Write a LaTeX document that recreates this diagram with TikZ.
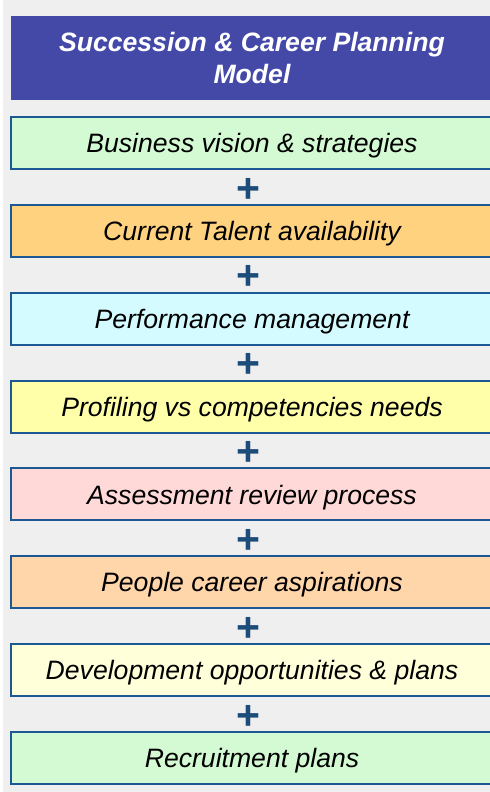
\documentclass[tikz,border=0pt]{standalone}
\usepackage{fontspec}
\setmainfont{Liberation Sans}
\usepackage{tikz}
\usetikzlibrary{positioning}
\definecolor{pagegray}{RGB}{239,239,239}
\definecolor{titleblue}{RGB}{68,73,168}
\definecolor{edgeblue}{RGB}{28,88,145}
\definecolor{plusblue}{RGB}{28,76,122}
\definecolor{fillgreen}{RGB}{212,250,212}
\definecolor{fillorange}{RGB}{255,210,128}
\definecolor{fillcyan}{RGB}{212,251,255}
\definecolor{fillyellow}{RGB}{255,255,170}
\definecolor{fillpink}{RGB}{255,216,216}
\definecolor{fillpeach}{RGB}{255,213,170}
\definecolor{fillcream}{RGB}{255,255,218}
\tikzset{
  title/.style={fill=titleblue,text=white,outer sep=0pt,inner sep=0pt,
    minimum width=241pt,minimum height=42pt,align=center,
    font=\fontsize{13.3}{16.5}\selectfont\bfseries\itshape},
  stepbox/.style={draw=edgeblue,line width=1pt,outer sep=0pt,inner sep=0pt,
    minimum width=241pt,minimum height=26pt,text depth=0pt,
    font=\fontsize{13.3}{16}\selectfont\itshape},
  plus/.style={text=plusblue,inner sep=0pt,outer sep=0pt,
    font=\fontsize{20.5}{20}\selectfont\bfseries}
}

\begin{document}
\begin{tikzpicture}[node distance=17.93pt]
    \useasboundingbox[fill=pagegray] (0,0) rectangle (245pt,-396pt);
    \fill[white] (0,0) rectangle (1.5pt,-396pt);
    \node[title,anchor=north west] (head) at (5.5pt,-8pt) {Succession \& Career Planning\\Model};
    \node[stepbox,fill=fillgreen,below=8.5pt of head.south west,anchor=north west] (vision) {Business vision \& strategies};
    \node[stepbox,fill=fillorange,below=of vision] (talent) {Current Talent availability};
    \node[stepbox,fill=fillcyan,below=of talent] (perf) {Performance management};
    \node[stepbox,fill=fillyellow,below=of perf] (profile) {Profiling vs competencies needs};
    \node[stepbox,fill=fillpink,below=of profile] (assess) {Assessment review process};
    \node[stepbox,fill=fillpeach,below=of assess] (aspire) {People career aspirations};
    \node[stepbox,fill=fillcream,below=of aspire] (develop) {Development opportunities \& plans};
    \node[stepbox,fill=fillgreen,below=of develop] (recruit) {Recruitment plans};
    % plus signs between the steps
    \node[plus,below=10.5pt of vision,anchor=center,xshift=-2pt] (p1) {+};
    \node[plus,below=10.5pt of talent,anchor=center,xshift=-2pt] (p2) {+};
    \node[plus,below=10.5pt of perf,anchor=center,xshift=-2pt] (p3) {+};
    \node[plus,below=10.5pt of profile,anchor=center,xshift=-2pt] (p4) {+};
    \node[plus,below=10.5pt of assess,anchor=center,xshift=-2pt] (p5) {+};
    \node[plus,below=10.5pt of aspire,anchor=center,xshift=-2pt] (p6) {+};
    \node[plus,below=10.5pt of develop,anchor=center,xshift=-2pt] (p7) {+};
\end{tikzpicture}
\end{document}
